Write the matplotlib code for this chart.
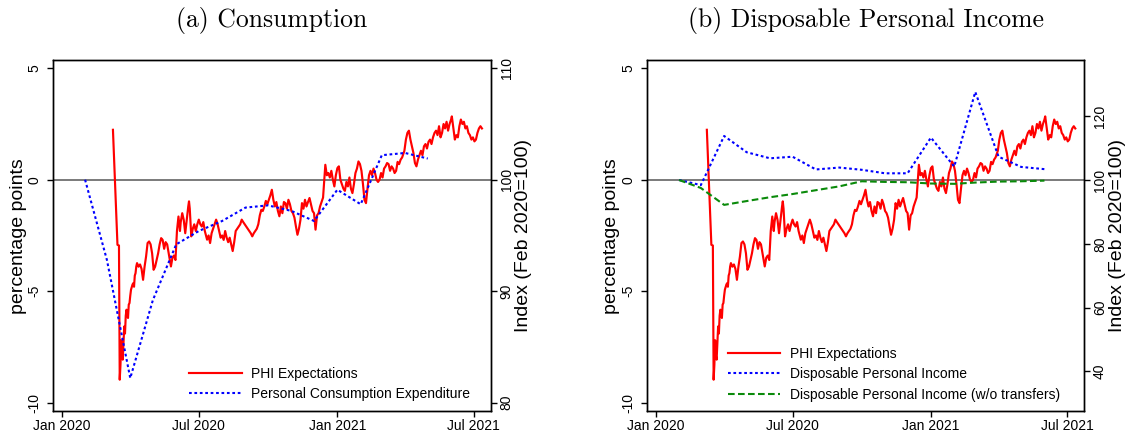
import matplotlib
matplotlib.use('Agg')
import matplotlib.pyplot as plt
import pandas as pd

plt.rcParams['font.family'] = ['Liberation Sans', 'DejaVu Sans']

# ---------------- data ----------------
base_date = pd.Timestamp('2020-01-01')

# PHI Expectations (percentage points), day offsets from 2020-01-01
phi_days = [68, 74, 76, 77, 78, 79, 80, 81, 82, 83, 84, 85, 86, 88, 89, 90, 91, 92, 94, 95,
            96, 97, 98, 99, 100, 102, 104, 106, 108, 110, 112, 114, 116, 118, 120, 122, 124, 126, 128, 130,
            132, 134, 136, 138, 140, 142, 144, 145, 147, 149, 151, 153, 155, 157, 158, 160, 162, 164, 166, 168,
            169, 170, 172, 174, 176, 178, 180, 182, 184, 186, 188, 190, 193, 195, 197, 199, 201, 203, 205, 207,
            209, 211, 213, 215, 217, 219, 221, 223, 225, 227, 229, 231, 233, 235, 237, 239, 241, 243, 245, 247,
            249, 251, 253, 255, 257, 259, 261, 263, 265, 267, 269, 271, 273, 275, 277, 279, 281, 283, 285, 287,
            289, 291, 293, 295, 297, 299, 301, 303, 305, 307, 309, 311, 313, 315, 317, 319, 321, 323, 325, 327,
            329, 331, 333, 335, 337, 339, 341, 343, 345, 347, 349, 350, 352, 354, 356, 358, 360, 362, 364, 366,
            368, 370, 372, 374, 376, 378, 380, 382, 384, 386, 388, 390, 392, 394, 396, 398, 400, 402, 404, 406,
            408, 410, 412, 414, 416, 418, 420, 422, 424, 426, 428, 430, 432, 434, 436, 438, 440, 442, 444, 446,
            448, 450, 452, 455, 457, 459, 461, 463, 465, 467, 469, 471, 473, 475, 477, 479, 481, 483, 485, 487,
            489, 491, 493, 495, 497, 499, 501, 503, 505, 507, 509, 511, 513, 515, 517, 518, 520, 522, 524, 526,
            528, 530, 532, 534, 536, 538, 540, 542, 544, 546, 548, 550, 552, 554, 556, 558]
phi_vals = [2.24, -2.92, -2.95, -8.97, -8.3, -7.2, -7.9, -8.07, -7.3, -6.58, -6.9, -6.1, -5.83, -6.2, -5.6, -5.53, -5.2, -4.93, -4.7, -4.64,
            -4.8, -4.3, -4.19, -3.89, -3.74, -3.9, -3.8, -4.0, -4.49, -3.9, -3.44, -2.84, -2.77, -2.9, -3.3, -4.04, -3.9, -3.6, -3.3, -2.9,
            -2.62, -2.7, -3.1, -2.8, -2.9, -3.3, -3.7, -3.89, -3.5, -3.4, -3.6, -2.3, -1.65, -2.3, -1.9, -1.5, -1.8, -2.4, -1.8, -1.2,
            -0.97, -1.3, -2.54, -2.2, -2.0, -2.3, -2.0, -1.79, -2.0, -2.1, -1.9, -2.3, -2.69, -2.5, -2.84, -2.4, -2.2, -2.0, -1.79, -2.0,
            -2.3, -2.6, -2.5, -2.7, -2.3, -2.6, -2.8, -2.6, -2.9, -3.2, -2.8, -2.3, -2.2, -2.1, -2.0, -1.79, -1.9, -2.0, -2.1, -2.2,
            -2.3, -2.4, -2.54, -2.4, -2.3, -2.2, -2.0, -1.6, -1.35, -1.4, -1.2, -0.95, -1.1, -0.9, -0.7, -0.45, -0.9, -1.2, -1.0, -1.4,
            -1.64, -1.2, -1.5, -1.0, -1.05, -1.3, -0.9, -1.1, -1.4, -1.5, -1.7, -2.1, -2.47, -2.2, -1.8, -1.05, -1.3, -0.9, -1.2, -1.0,
            -0.82, -1.1, -1.4, -1.5, -2.24, -1.6, -1.5, -1.2, -1.0, -0.8, 0.2, 0.67, 0.2, 0.3, 0.1, 0.4, 0.0, -0.3, 0.2, 0.52,
            0.6, 0.0, -0.2, -0.4, -0.5, -0.1, -0.3, 0.1, -0.4, -0.6, -0.2, 0.3, 0.5, 0.82, 0.7, 0.4, -0.2, -0.9, -1.05, -0.4,
            0.2, 0.4, 0.2, 0.5, 0.3, 0.0, -0.1, 0.0, 0.3, 0.1, 0.5, 0.6, 0.75, 0.7, 0.4, 0.6, 0.5, 0.3, 0.4, 0.8,
            0.7, 0.9, 1.0, 1.3, 1.8, 2.1, 2.2, 1.8, 1.5, 1.2, 0.75, 0.6, 0.9, 1.1, 1.3, 1.1, 1.5, 1.6, 1.4, 1.7,
            1.8, 1.6, 1.9, 2.1, 2.2, 2.0, 2.4, 1.9, 2.1, 2.5, 2.3, 2.6, 2.2, 2.5, 2.7, 2.84, 2.3, 1.8, 2.0, 1.9,
            2.4, 2.7, 2.5, 2.6, 2.3, 2.4, 2.1, 2.0, 1.8, 1.9, 1.72, 1.8, 2.1, 2.3, 2.4, 2.3]

# Personal Consumption Expenditure index (Feb 2020 = 100), monthly from Feb 2020
pce_index = [100.0, 92.8, 82.2, 89.2, 94.2, 95.4, 96.3, 97.5, 97.7, 97.2, 96.3, 99.1, 97.8, 102.2, 102.4, 101.9]
# Disposable Personal Income index, monthly from Feb 2020
dpi_index = [100.0, 98.4, 113.8, 108.7, 106.8, 107.3, 103.3, 103.9, 103.2, 102.1, 102.1, 113.3, 104.2, 127.6, 107.3, 104.1, 103.4]
# Disposable Personal Income (w/o transfers) index, monthly from Feb 2020
dpi_nt_index = [100.0, 97.5, 92.2, 93.4, 94.6, 95.6, 96.8, 98.0, 99.6, 99.4, 99.3, 98.9, 98.8, 99.2, 99.5, 99.6, 99.8]

xtick_dates = ['2020-01-01', '2020-07-01', '2021-01-01', '2021-07-01']
xtick_labels = ['Jan 2020', 'Jul 2020', 'Jan 2021', 'Jul 2021']
left_ticks = [-10, -5, 0, 5]
left_tick_labels = ['-10', '-5', '0', '5']
right_ticks_a = [80, 90, 100, 110]
right_ticks_b = [40, 60, 80, 100, 120]

titles = ['(a) Consumption', '(b) Disposable Personal Income']

# ---------------- derived ----------------
phi_dates = base_date + pd.to_timedelta(phi_days, unit='D')
pce_dates = pd.date_range('2020-02-01', periods=len(pce_index), freq='MS')
dpi_dates = pd.date_range('2020-02-01', periods=len(dpi_index), freq='MS')
dpint_dates = pd.date_range('2020-02-01', periods=len(dpi_nt_index), freq='MS')

W, H = 1129, 436
fig = plt.figure(figsize=(W / 100, H / 100), dpi=100)

top_px, bot_px = 60, 410.7
ylim_left = (-10.36, 5.37)
xlim = (pd.Timestamp('2019-12-20'), pd.Timestamp('2021-07-24'))

RED = '#ff0000'
BLUE = '#0000ff'
GREEN = '#0a8a0a'
ZERO = '#707070'


def make_axes(x0, x1):
    ax = fig.add_axes([x0 / W, 1 - bot_px / H, (x1 - x0) / W, (bot_px - top_px) / H])
    axr = ax.twinx()
    return ax, axr


def style(ax, axr, rticks, rlim):
    ax.set_xlim(*xlim)
    ax.set_ylim(*ylim_left)
    axr.set_ylim(*rlim)
    ax.axhline(0, color=ZERO, lw=1.3, zorder=1)
    ax.set_xticks(pd.to_datetime(xtick_dates))
    ax.set_xticklabels(xtick_labels)
    ax.set_yticks(left_ticks)
    ax.set_yticklabels(left_tick_labels)
    axr.set_yticks(rticks)
    axr.set_yticklabels([str(t) for t in rticks])
    ax.tick_params(axis='x', direction='out', length=4.3, width=1, labelsize=10, pad=2)
    ax.tick_params(axis='y', direction='out', length=4.3, width=1, labelsize=10, pad=4)
    axr.tick_params(axis='y', direction='out', length=4.3, width=1, labelsize=10, pad=2)
    for lab in ax.get_yticklabels():
        lab.set_rotation(90)
        lab.set_va('center')
        lab.set_ha('right')
    for lab in axr.get_yticklabels():
        lab.set_rotation(90)
        lab.set_va('center')
        lab.set_ha('left')
    for a in (ax, axr):
        for s in a.spines.values():
            s.set_linewidth(1.0)
            s.set_color('black')
    axr.patch.set_visible(False)


legend_kw = dict(loc='upper left', bbox_transform=fig.transFigure, frameon=False, fontsize=10,
                 borderpad=0, borderaxespad=0, handlelength=3.78, handletextpad=0.67,
                 labelspacing=0.45)

# ---------- panel (a) ----------
axa, axar = make_axes(52.7, 491.0)
rlim_a = (100 + 2 * ylim_left[0], 100 + 2 * ylim_left[1])
style(axa, axar, right_ticks_a, rlim_a)
l1, = axa.plot(phi_dates, phi_vals, color=RED, lw=1.55, zorder=3, label='PHI Expectations')
l2, = axar.plot(pce_dates, pce_index, color=BLUE, lw=1.5, linestyle=(0, (1.3, 1.3)),
                label='Personal Consumption Expenditure')
axar.legend([l1, l2], [l1.get_label(), l2.get_label()],
            bbox_to_anchor=(189.4 / W, 1 - 367 / H), **legend_kw)

# ---------- panel (b) ----------
axb, axbr = make_axes(646.7, 1084.3)
rlim_b = (100 - (bot_px - 180) / 3.19, 100 + (180 - top_px) / 3.19)
style(axb, axbr, right_ticks_b, rlim_b)
m1, = axb.plot(phi_dates, phi_vals, color=RED, lw=1.55, zorder=3, label='PHI Expectations')
m2, = axbr.plot(dpi_dates, dpi_index, color=BLUE, lw=1.5, linestyle=(0, (1.3, 1.3)),
                label='Disposable Personal Income')
m3, = axbr.plot(dpint_dates, dpi_nt_index, color=GREEN, lw=1.5, linestyle=(0, (3.2, 1.6)),
                label='Disposable Personal Income (w/o transfers)')
axbr.legend([m1, m2, m3], [m.get_label() for m in (m1, m2, m3)],
            bbox_to_anchor=(727.7 / W, 1 - 347 / H), **legend_kw)

# ---------- labels & titles ----------
for xc in (18.5 / W, 612.0 / W):
    fig.text(xc, 1 - 236 / H, 'percentage points', rotation=90, ha='center', va='center', fontsize=14)
for xc in (524 / W, 1118 / W):
    fig.text(xc, 1 - 236 / H, 'Index (Feb 2020=100)', rotation=90, ha='center', va='center', fontsize=14)

for title, xc in zip(titles, ((52.7 + 491.0) / 2 / W, (646.7 + 1084.3) / 2 / W)):
    fig.text(xc, 1 - 26.5 / H, title, ha='center', va='baseline', fontsize=18.5, family='cmr10')

fig.savefig('out.png', dpi=100)
